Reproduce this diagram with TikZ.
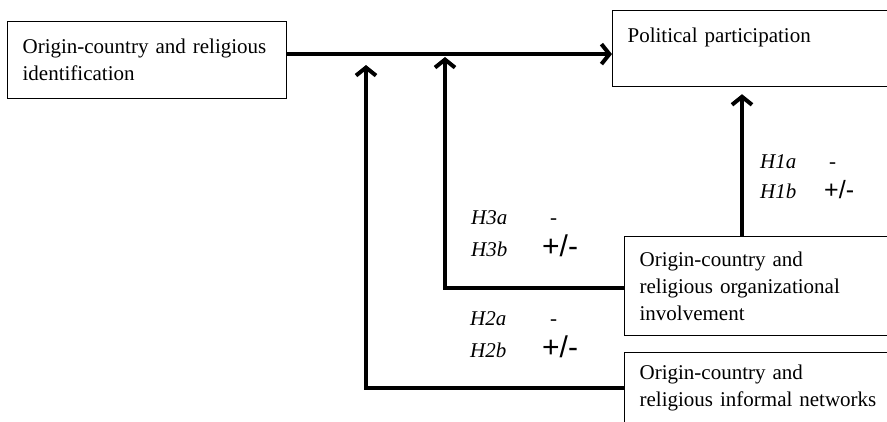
\documentclass[tikz,border=0pt]{standalone}
\usepackage{fontspec}
\setmainfont{Liberation Serif}
\newfontfamily\sansfnt{Liberation Sans}
\usetikzlibrary{arrows.meta,calc}

\begin{document}
\begin{tikzpicture}[x=1pt, y=-1pt,
  varbox/.style={draw, line width=1.2pt, rectangle, anchor=north west, align=left,
    text width=#1, inner xsep=15pt, inner ysep=0pt, font=\fontsize{21}{27}\selectfont},
  flow/.style={line width=4pt, -{Straight Barb[length=8pt,width=20pt]}},
  hlab/.style={anchor=base west, inner sep=0pt, font=\fontsize{21}{27}\selectfont\itshape},
  sign/.style={anchor=base west, inner sep=0pt, font=\fontsize{21}{27}\selectfont},
  pm/.style={anchor=base west, inner sep=0pt, font=\sansfnt\fontsize{#1}{#1}\selectfont}]
\clip (0,0) rectangle (887,421);
% boxes
\node [varbox=249pt, minimum height=77pt] (ident) at (7,21) {Origin-country and religious\\identification};
\node [varbox=400pt, minimum height=76pt] (polit) at (612,10) {Political participation\\\mbox{}};
\node [varbox=400pt, minimum height=99pt] (org) at (624,236) {Origin-country and\\religious organizational\\involvement};
\node [varbox=400pt, minimum height=70pt] (netw) at (624,352) {Origin-country and\\religious informal networks};
% arrows
\coordinate (h1) at (742,0);
\coordinate (h1end) at ($(polit.south -| h1)+(0,7)$);
\coordinate (h3end) at (445,57);
\coordinate (h2end) at (366,65);
\draw [flow] ([yshift=6pt]ident.east) -- ([yshift=6pt]ident.east -| polit.west);
\draw [flow] (org.north -| h1) -- (h1end);
\draw [flow] ([yshift=-2pt]org.west) -| (h3end);
\draw [flow] (netw.west) -| (h2end);
% hypotheses
\node [hlab] (h1a) at (760,168) {H1a};
\node [sign] (h1as) at (829,168) {-};
\node [hlab] (h1b) at (760,198) {H1b};
\node [pm=25] (h1bs) at (824,198) {+/-};
\node [hlab] (h3a) at (471,224) {H3a};
\node [sign] (h3as) at (550,224) {-};
\node [hlab] (h3b) at (471,256) {H3b};
\node [pm=30] (h3bs) at (542,256) {+/-};
\node [hlab] (h2a) at (470,325) {H2a};
\node [sign] (h2as) at (550,325) {-};
\node [hlab] (h2b) at (470,357) {H2b};
\node [pm=30] (h2bs) at (542,357) {+/-};
\end{tikzpicture}
\end{document}
